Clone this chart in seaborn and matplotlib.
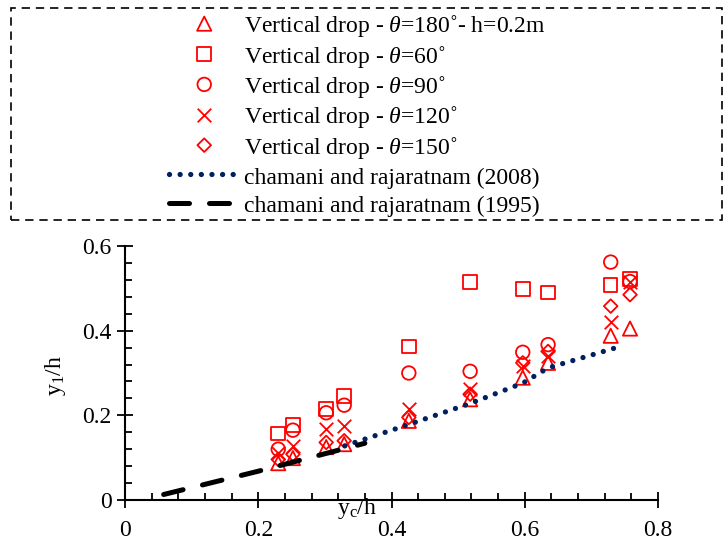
import matplotlib
matplotlib.use("Agg")
import matplotlib.pyplot as plt
from matplotlib.ticker import MultipleLocator
from matplotlib.patches import Rectangle
import seaborn as sns

# ---------------- data ----------------
yc_h = [0.230, 0.252, 0.302, 0.329, 0.426, 0.518, 0.597, 0.635, 0.729, 0.758]
y1_theta180 = [0.087, 0.099, 0.125, 0.132, 0.187, 0.238, 0.289, 0.324, 0.388, 0.405]
y1_theta60 = [0.157, 0.177, 0.215, 0.246, 0.363, 0.515, 0.499, 0.490, 0.508, 0.522]
y1_theta90 = [0.120, 0.165, 0.206, 0.224, 0.300, 0.304, 0.349, 0.367, 0.562, 0.516]
y1_theta120 = [0.112, 0.128, 0.167, 0.175, 0.214, 0.262, 0.316, 0.340, 0.420, 0.515]
y1_theta150 = [0.096, 0.108, 0.136, 0.140, 0.195, 0.250, 0.324, 0.351, 0.458, 0.485]

x_2008 = [0.330, 0.425, 0.518, 0.597, 0.635, 0.744]
y_2008 = [0.128, 0.178, 0.228, 0.276, 0.312, 0.363]
x_1995 = [0.058, 0.200, 0.360]
y_1995 = [0.013, 0.068, 0.134]

labels = [
    "Vertical drop - $\\it{\\theta}$=180\u02da- h=0.2m",
    "Vertical drop - $\\it{\\theta}$=60\u02da",
    "Vertical drop - $\\it{\\theta}$=90\u02da",
    "Vertical drop - $\\it{\\theta}$=120\u02da",
    "Vertical drop - $\\it{\\theta}$=150\u02da",
    "chamani and rajaratnam (2008)",
    "chamani and rajaratnam (1995)",
]
xticks = [0, 0.2, 0.4, 0.6, 0.8]
xtick_labels = ["0", "0.2", "0.4", "0.6", "0.8"]
yticks = [0, 0.2, 0.4, 0.6]
ytick_labels = ["0", "0.2", "0.4", "0.6"]

# ---------------- style ----------------
sns.set_theme(style="ticks")
plt.rcParams["font.family"] = ["Liberation Serif", "DejaVu Serif"]
plt.rcParams["mathtext.fontset"] = "custom"
plt.rcParams["mathtext.rm"] = "Liberation Serif"
plt.rcParams["mathtext.it"] = "Liberation Serif:italic"
plt.rcParams["mathtext.bf"] = "Liberation Serif:bold"

RED = "#FF0000"
NAVY = "#002060"
FS = 17

fig = plt.figure(figsize=(7.27, 5.41), dpi=100)
ax = fig.add_axes([125 / 727, 1 - 500 / 541, 533 / 727, 254 / 541])

series = [
    (y1_theta180, "^", 105),
    (y1_theta60, "s", 95),
    (y1_theta90, "o", 95),
    (y1_theta120, "x", 95),
    (y1_theta150, "D", 48),
]
for (vals, mk, size), lab in zip(series, labels[:5]):
    if mk == "x":
        sns.scatterplot(x=yc_h, y=vals, ax=ax, marker=mk, s=size, color=RED,
                        linewidth=1.3, label=lab, zorder=3)
    else:
        sns.scatterplot(x=yc_h, y=vals, ax=ax, marker=mk, s=size,
                        facecolors="none", edgecolor=RED, linewidth=1.3,
                        label=lab, zorder=3)

sns.lineplot(x=x_2008, y=y_2008, ax=ax, color=NAVY, lw=3.8,
             linestyle=(0, (0.01, 2.0)), dash_capstyle="round",
             sort=False, estimator=None, label=labels[5], zorder=4)
sns.lineplot(x=x_1995, y=y_1995, ax=ax, color="black", lw=3.6,
             linestyle=(0, (4.0, 4.0)), dash_capstyle="round",
             sort=False, estimator=None, label=labels[6], zorder=4)

ax.set_xlim(0, 0.8)
ax.set_ylim(0, 0.6)
ax.set_xticks(xticks)
ax.set_xticklabels(xtick_labels)
ax.set_yticks(yticks)
ax.set_yticklabels(ytick_labels)
ax.xaxis.set_minor_locator(MultipleLocator(0.04))
ax.yaxis.set_minor_locator(MultipleLocator(0.04))
ax.tick_params(which="major", direction="inout", length=11, width=1.3,
               labelsize=FS, color="black", labelcolor="black")
ax.tick_params(axis="x", which="major", pad=9)
ax.tick_params(axis="y", which="major", pad=4)
ax.tick_params(which="minor", direction="in", length=5, width=1.3, color="black")
for sp in ["top", "right"]:
    ax.spines[sp].set_visible(False)
for sp in ["left", "bottom"]:
    ax.spines[sp].set_linewidth(1.5)
    ax.spines[sp].set_color("black")

ax.set_ylabel("y$_1$/h", fontsize=FS, color="black")
ax.yaxis.set_label_coords(-0.107, 0.49)
xl = ax.set_xlabel("y$_\\mathrm{c}$/h", fontsize=FS, color="black")
xl.set_va("center")
ax.xaxis.set_label_coords(0.435, -0.035)

handles, labs = ax.get_legend_handles_labels()
if ax.get_legend() is not None:
    ax.get_legend().remove()
leg = fig.legend(handles, labs, loc="upper left",
                 bbox_to_anchor=(157 / 727, 1 - 1 / 541),
                 frameon=False, borderpad=0, handlelength=3.0,
                 handleheight=1.1,
                 handletextpad=0.17, labelspacing=0.17, markerscale=1.0,
                 prop={"family": "Liberation Serif", "size": FS})
for t in leg.get_texts():
    t.set_color("black")

fig.patches.append(Rectangle((11 / 727, 1 - 220 / 541), 711 / 727, 212 / 541,
                             transform=fig.transFigure, fill=False,
                             linestyle=(0, (5, 3.5)), linewidth=1.2,
                             edgecolor="black"))

fig.savefig("out.png", dpi=100, facecolor="white")
